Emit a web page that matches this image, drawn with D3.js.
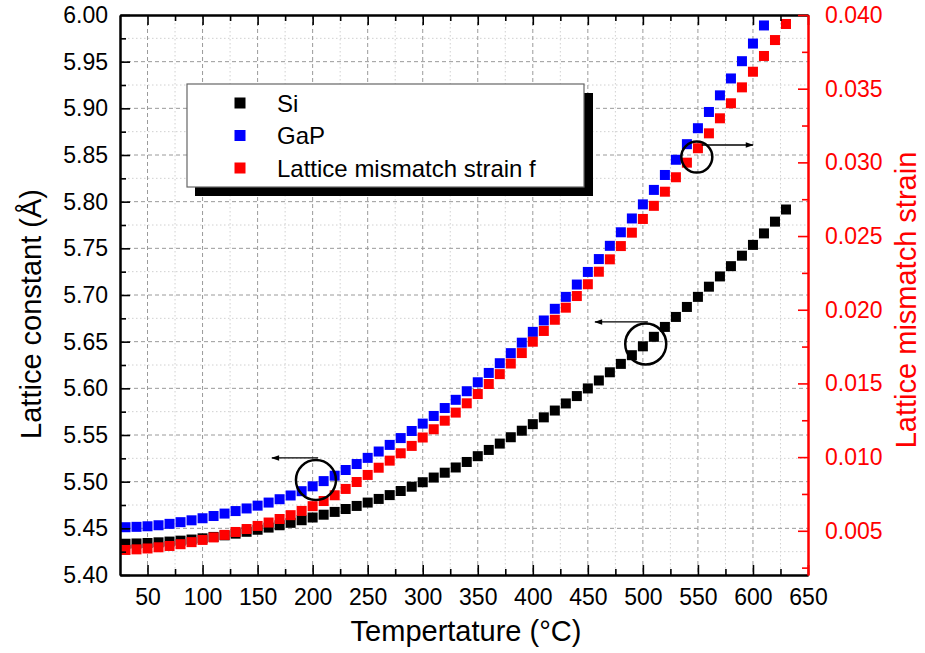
<!DOCTYPE html>
<html><head><meta charset="utf-8">
<script src="https://cdn.jsdelivr.net/npm/d3@7"></script>
<style>
body{margin:0;background:#fff;}
svg{display:block;font-family:"Liberation Sans",Arial,sans-serif;}
</style></head>
<body><svg id="c" width="925" height="653"></svg>
<script>
const temperature = [30,40,50,60,70,80,90,100,110,120,130,140,150,160,170,180,190,200,210,220,230,240,250,260,270,280,290,300,310,320,330,340,350,360,370,380,390,400,410,420,430,440,450,460,470,480,490,500,510,520,530,540,550,560,570,580,590,600,610,620,630];
const siLattice = [5.4335,5.4338,5.4343,5.4350,5.4358,5.4368,5.4380,5.4393,5.4408,5.4425,5.4443,5.4463,5.4485,5.4508,5.4533,5.4559,5.4587,5.4616,5.4646,5.4676,5.4707,5.4740,5.4776,5.4815,5.4856,5.4900,5.4946,5.4994,5.5044,5.5096,5.5152,5.5211,5.5273,5.5340,5.5408,5.5476,5.5546,5.5616,5.5689,5.5762,5.5838,5.5917,5.5999,5.6084,5.6172,5.6262,5.6355,5.6450,5.6552,5.6658,5.6765,5.6872,5.6980,5.7089,5.7199,5.7309,5.7421,5.7537,5.7660,5.7786,5.7916];
const gapLattice = [5.4512,5.4516,5.4522,5.4533,5.4548,5.4566,5.4586,5.4608,5.4632,5.4658,5.4685,5.4713,5.4743,5.4776,5.4812,5.4852,5.4898,5.4950,5.5006,5.5064,5.5125,5.5189,5.5255,5.5323,5.5394,5.5467,5.5543,5.5622,5.5704,5.5789,5.5877,5.5969,5.6065,5.6165,5.6269,5.6377,5.6489,5.6605,5.6727,5.6852,5.6980,5.7112,5.7247,5.7385,5.7527,5.7672,5.7820,5.7971,5.8126,5.8286,5.8449,5.8616,5.8787,5.8961,5.9139,5.9320,5.9505,5.9694,5.9888];
const mismatchStrain = [0.00370,0.00374,0.00380,0.00388,0.00397,0.00409,0.00423,0.00438,0.00455,0.00472,0.00492,0.00512,0.00533,0.00556,0.00580,0.00606,0.00635,0.00667,0.00702,0.00741,0.00784,0.00831,0.00879,0.00928,0.00976,0.01026,0.01076,0.01133,0.01189,0.01247,0.01302,0.01365,0.01428,0.01496,0.01563,0.01635,0.01706,0.01783,0.01856,0.01932,0.02014,0.02093,0.02173,0.02258,0.02342,0.02432,0.02523,0.02616,0.02705,0.02801,0.02899,0.02998,0.03096,0.03197,0.03299,0.03401,0.03509,0.03615,0.03722,0.03830,0.03939];
const xTicks = [50,100,150,200,250,300,350,400,450,500,550,600,650];
const xMinor = [25,75,125,175,225,275,325,375,425,475,525,575,625];
const yLeftTicks = [5.40,5.45,5.50,5.55,5.60,5.65,5.70,5.75,5.80,5.85,5.90,5.95,6.00];
const yLeftMinor = [5.425,5.475,5.525,5.575,5.625,5.675,5.725,5.775,5.825,5.875,5.925,5.975];
const yRightTicks = [0.005,0.010,0.015,0.020,0.025,0.030,0.035,0.040];
const yRightMinor = [0.0025,0.0075,0.0125,0.0175,0.0225,0.0275,0.0325,0.0375];
const seriesNames = ["Si","GaP","Lattice mismatch strain f"];
const seriesColors = ["#000000","#0000ff","#ff0000"];
// annotations in data units: [T, value, radiusPx, axis]
const circles = [[203,5.5018,20,"L"],[502.6,5.6475,20.5,"L"],[549,0.03036,15.5,"R"]];
// arrows: [T from, T to, value, axis]
const arrows = [[205,163,5.5254,"L"],[504.5,456.5,5.6711,"L"],[553.4,600,0.03118,"R"]];

const L=120,R=808,T=15,B=575;
const svg=d3.select("#c");
const x=d3.scaleLinear([25,650],[L,R]);
const yL=d3.scaleLinear([5.40,6.00],[B,T]);
const yR=d3.scaleLinear([0.002,0.040],[B,T]);

svg.append("defs").append("marker").attr("id","ah").attr("viewBox","0 0 10 10").attr("refX",9).attr("refY",5)
 .attr("markerWidth",12).attr("markerHeight",8).attr("markerUnits","userSpaceOnUse").attr("orient","auto")
 .append("path").attr("d","M0,1.5L10,5L0,8.5Z").attr("fill","#000");

// grid
const g=svg.append("g");
g.selectAll(".gxm").data(xMinor.filter(v=>v>25)).join("line").attr("x1",d=>x(d)).attr("x2",d=>x(d)).attr("y1",T).attr("y2",B)
 .attr("stroke","#d0d0d0").attr("stroke-width",1).attr("stroke-dasharray","1.5,2.5");
g.selectAll(".gym").data(yLeftMinor).join("line").attr("y1",d=>yL(d)).attr("y2",d=>yL(d)).attr("x1",L).attr("x2",R)
 .attr("stroke","#d0d0d0").attr("stroke-width",1).attr("stroke-dasharray","1.5,2.5");
g.selectAll(".gx").data(xTicks.filter(v=>v<650)).join("line").attr("x1",d=>x(d)).attr("x2",d=>x(d)).attr("y1",T).attr("y2",B)
 .attr("stroke","#9a9a9a").attr("stroke-width",1).attr("stroke-dasharray","4,3");
g.selectAll(".gy").data(yLeftTicks.filter(v=>v>5.4&&v<6)).join("line").attr("y1",d=>yL(d)).attr("y2",d=>yL(d)).attr("x1",L).attr("x2",R)
 .attr("stroke","#9a9a9a").attr("stroke-width",1).attr("stroke-dasharray","4,3");

// data
const sq=10;
const dataSets=[
 temperature.map((t,i)=>({t,v:siLattice[i],s:yL})),
 gapLattice.map((v,i)=>({t:temperature[i],v,s:yL})),
 temperature.map((t,i)=>({t,v:mismatchStrain[i],s:yR}))
];
dataSets.forEach((ds,k)=>{
 svg.append("g").selectAll("rect").data(ds).join("rect")
  .attr("x",d=>x(d.t)-sq/2).attr("y",d=>d.s(d.v)-sq/2).attr("width",sq).attr("height",sq)
  .attr("fill",seriesColors[k]);
});

// axes
const fs="23px";
function styleAxis(sel,color){
 sel.select(".domain").attr("stroke",color).attr("stroke-width",2);
 sel.selectAll(".tick line").attr("stroke",color).attr("stroke-width",1.6);
 sel.selectAll("text").attr("fill",color).style("font-size",fs).style("font-family",'"Liberation Sans",Arial,sans-serif');
}
const ab=svg.append("g").attr("transform",`translate(0,${B})`).call(d3.axisBottom(x).tickValues(xTicks).tickFormat(d3.format("d")).tickSize(-10).tickSizeOuter(0).tickPadding(14));
styleAxis(ab,"#000");
const abm=svg.append("g").attr("transform",`translate(0,${B})`).call(d3.axisBottom(x).tickValues(xMinor.filter(v=>v>25)).tickFormat("").tickSize(-6).tickSizeOuter(0));
styleAxis(abm,"#000");
const at=svg.append("g").attr("transform",`translate(0,${T})`).call(d3.axisTop(x).tickValues(xTicks).tickFormat("").tickSize(-10).tickSizeOuter(0));
styleAxis(at,"#000");
const atm=svg.append("g").attr("transform",`translate(0,${T})`).call(d3.axisTop(x).tickValues(xMinor.filter(v=>v>25)).tickFormat("").tickSize(-6).tickSizeOuter(0));
styleAxis(atm,"#000");
const al=svg.append("g").attr("transform",`translate(${L},0)`).call(d3.axisLeft(yL).tickValues(yLeftTicks).tickFormat(d3.format(".2f")).tickSize(-10).tickSizeOuter(0).tickPadding(12));
styleAxis(al,"#000");
const alm=svg.append("g").attr("transform",`translate(${L},0)`).call(d3.axisLeft(yL).tickValues(yLeftMinor).tickFormat("").tickSize(-6).tickSizeOuter(0));
styleAxis(alm,"#000");
const ar=svg.append("g").attr("transform",`translate(${R},0)`).call(d3.axisRight(yR).tickValues(yRightTicks).tickFormat(d3.format(".3f")).tickSize(-10).tickSizeOuter(0).tickPadding(17));
styleAxis(ar,"#ff0000");
const arm=svg.append("g").attr("transform",`translate(${R},0)`).call(d3.axisRight(yR).tickValues(yRightMinor).tickFormat("").tickSize(-6).tickSizeOuter(0));
styleAxis(arm,"#ff0000");

// titles
svg.append("text").attr("x",(L+R)/2+2).attr("y",641).attr("text-anchor","middle").style("font-size","29px").text("Tempertature (°C)");
svg.append("text").attr("transform","translate(41,314) rotate(-90)").attr("text-anchor","middle").style("font-size","29px").text("Lattice constant (Å)");
svg.append("text").attr("transform","translate(916,300) rotate(-90)").attr("text-anchor","middle").style("font-size","29px").attr("fill","#ff0000").text("Lattice mismatch strain");

// annotations
circles.forEach(c=>{
 const s=c[3]==="L"?yL:yR;
 svg.append("circle").attr("cx",x(c[0])).attr("cy",s(c[1])).attr("r",c[2]).attr("fill","none").attr("stroke","#000").attr("stroke-width",2.5);
});
arrows.forEach(a=>{
 const s=a[3]==="L"?yL:yR;
 svg.append("line").attr("x1",x(a[0])).attr("x2",x(a[1])).attr("y1",s(a[2])).attr("y2",s(a[2]))
  .attr("stroke","#000").attr("stroke-width",1.3).attr("marker-end","url(#ah)");
});

// legend
const lg=svg.append("g");
lg.append("rect").attr("x",195).attr("y",93).attr("width",398).attr("height",103).attr("fill","#000");
lg.append("rect").attr("x",187).attr("y",84).attr("width",397).attr("height",103).attr("fill","#fff").attr("stroke","#666").attr("stroke-width",1.2);
seriesNames.forEach((n,i)=>{
 const cy=103+i*32.5;
 lg.append("rect").attr("x",240-5.5).attr("y",cy-5.5).attr("width",11).attr("height",11).attr("fill",seriesColors[i]);
 lg.append("text").attr("x",277).attr("y",cy).attr("dy","0.36em").style("font-size","24px").text(n);
});
</script></body></html>
